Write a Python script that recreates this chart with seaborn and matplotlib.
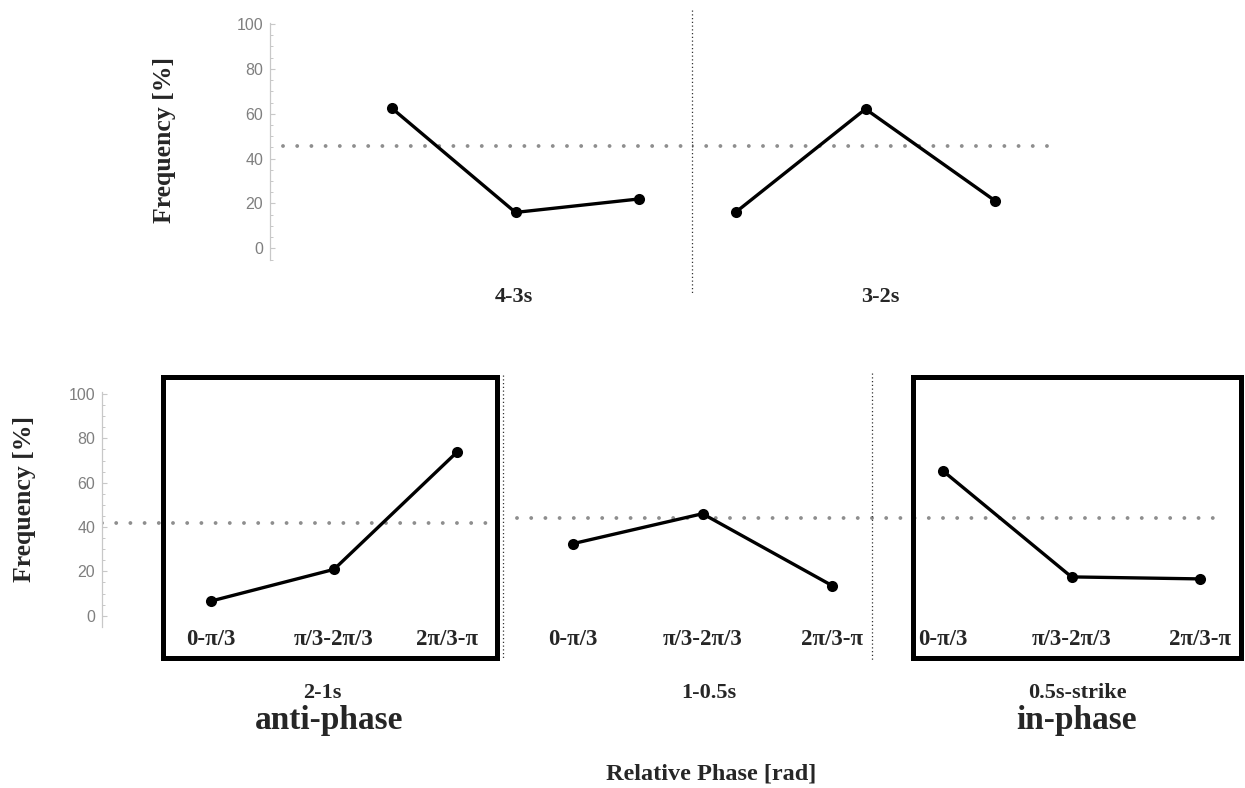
import matplotlib
matplotlib.use("Agg")
import matplotlib.pyplot as plt
from matplotlib.lines import Line2D
from matplotlib.patches import Rectangle
from matplotlib.ticker import MultipleLocator
from matplotlib.transforms import ScaledTranslation
import pandas as pd
import seaborn as sns

# ---- data -------------------------------------------------------------
phase_bins = ["0-π/3", "π/3-2π/3", "2π/3-π"]
windows = ["4-3s", "3-2s", "2-1s", "1-0.5s", "0.5s-strike"]
freq_4_3s = [62.4, 16.0, 22.0]
freq_3_2s = [16.2, 62.1, 21.2]
freq_2_1s = [6.6, 20.9, 73.8]
freq_1_05s = [32.5, 46.0, 13.6]
freq_05s_strike = [65.3, 17.5, 16.6]
ref_level_top = 45.4
ref_level_2_1s = 41.9
ref_level_late = 43.9
y_ticks = [0, 20, 40, 60, 80, 100]

frequencies = {
    "4-3s": freq_4_3s,
    "3-2s": freq_3_2s,
    "2-1s": freq_2_1s,
    "1-0.5s": freq_1_05s,
    "0.5s-strike": freq_05s_strike,
}
df = pd.DataFrame(
    [(w, p, f) for w in windows for p, f in zip(phase_bins, frequencies[w])],
    columns=["window", "phase", "freq"],
)

# ---- style ------------------------------------------------------------
sns.set_theme(style="white")
plt.rcParams["font.family"] = ["Liberation Serif", "DejaVu Serif"]

W, H = 1245, 788
fig = plt.figure(figsize=(W / 100, H / 100), dpi=100)


def fx(px):
    return px / W


def fy(py):
    return 1 - py / H


SERIF_BOLD = dict(family=["Liberation Serif", "DejaVu Serif"], weight="bold")
TICK_COLOR = "#7f7f7f"
SPINE_COLOR = "#c8c8c8"
DOT_COLOR = "#8e8e8e"


def make_panel(x0, x1, y_top, y_bot, ylim, pts, window, show_yaxis, show_xlabels):
    ax = fig.add_axes([fx(x0), fy(y_bot), (x1 - x0) / W, (y_bot - y_top) / H])
    sub = df[df["window"] == window]
    sns.lineplot(data=sub, x="phase", y="freq", ax=ax, color="black",
                 linewidth=2.4, marker="o", markersize=8,
                 markeredgewidth=0, sort=False)
    p0, p2 = pts
    s = (p2 - p0) / 2
    ax.set_xlim(-(p0 - x0) / s, 2 + (x1 - p2) / s)
    ax.set_ylim(*ylim)
    ax.set_xlabel("")
    ax.set_ylabel("")
    for side in ["top", "right", "bottom"]:
        ax.spines[side].set_visible(False)
    ax.patch.set_alpha(0)
    if show_yaxis:
        ax.spines["left"].set_color(SPINE_COLOR)
        ax.spines["left"].set_linewidth(0.9)
        ax.set_yticks(y_ticks)
        ax.yaxis.set_minor_locator(MultipleLocator(5))
        ax.tick_params(axis="y", which="major", direction="in", length=3.5,
                       width=0.8, color=SPINE_COLOR, labelcolor=TICK_COLOR,
                       labelsize=11.5, pad=5, left=True)
        ax.tick_params(axis="y", which="minor", direction="in", length=2,
                       width=0.7, color=SPINE_COLOR, left=True)
        for lab in ax.get_yticklabels():
            lab.set_family(["Liberation Sans", "DejaVu Sans"])
    else:
        ax.spines["left"].set_visible(False)
        ax.set_yticks([])
    ax.tick_params(axis="x", length=0, pad=2)
    if show_xlabels:
        ax.set_xticks(range(len(phase_bins)))
        ax.set_xticklabels(phase_bins, fontsize=16.5, **SERIF_BOLD)
    else:
        ax.set_xticks([])
    return ax


def ref_line(ax, level, f0, f1):
    ax.axhline(level, f0, f1, color=DOT_COLOR, linewidth=2.8,
               linestyle=(0, (0.001, 3.65)), dash_capstyle="round", zorder=0)


# ---- top row ----------------------------------------------------------
top_ylim = ((248.3 - 260) / 2.243, (248.3 - 22.7) / 2.243)
ax43 = make_panel(270, 692, 22.7, 260, top_ylim, (392, 639), "4-3s", True, False)
ax32 = make_panel(692, 1057, 22.7, 260, top_ylim, (736, 995), "3-2s", False, False)
ref_line(ax43, ref_level_top, (283 - 270) / (692 - 270), 1)
ref_line(ax32, ref_level_top, 0, 1)

# ---- bottom row -------------------------------------------------------
bot_ylim = ((615.7 - 626.7) / 2.217, (615.7 - 391.7) / 2.217)
ax21 = make_panel(102, 503, 391.7, 626.7, bot_ylim, (211, 457), "2-1s", True, True)
ax105 = make_panel(503, 872, 391.7, 626.7, bot_ylim, (573, 832), "1-0.5s", False, True)
axst = make_panel(872, 1241, 391.7, 626.7, bot_ylim, (943, 1200), "0.5s-strike", False, True)
ref_line(ax21, ref_level_2_1s, 0, (497 - 102) / (503 - 102))
ref_line(ax105, ref_level_late, (517 - 503) / (872 - 503), 1)
ref_line(axst, ref_level_late, 0, (1218 - 872) / (1241 - 872))

# keep the last phase label of the framed 2-1s window clear of the frame
last_lab = ax21.get_xticklabels()[-1]
last_lab.set_transform(last_lab.get_transform()
                       + ScaledTranslation(-0.10, 0, fig.dpi_scale_trans))

# frames around the anti-phase and in-phase windows
for bx0, bx1 in [(163, 497), (913, 1241)]:
    fig.add_artist(Rectangle((fx(bx0), fy(658)), (bx1 - bx0) / W, (658 - 377) / H,
                             transform=fig.transFigure, fill=False,
                             edgecolor="black", linewidth=3.6, zorder=5))

# thin dotted separators between time windows
for sx, sy0, sy1 in [(692, 10, 295), (503, 375, 660), (872, 373, 660)]:
    fig.add_artist(Line2D([fx(sx), fx(sx)], [fy(sy0), fy(sy1)],
                          transform=fig.transFigure, color="#333333",
                          linewidth=0.9, linestyle=(0, (1, 2))))

# ---- text -------------------------------------------------------------
for label, cx, cy in [("4-3s", 514, 297), ("3-2s", 880, 297),
                      ("2-1s", 322, 693), ("1-0.5s", 709, 693),
                      ("0.5s-strike", 1077, 693)]:
    fig.text(fx(cx), fy(cy), label, ha="center", va="center",
             fontsize=16, **SERIF_BOLD)

fig.text(fx(329), fy(720), "anti-phase", ha="center", va="center",
         fontsize=24, **SERIF_BOLD)
fig.text(fx(1077), fy(720), "in-phase", ha="center", va="center",
         fontsize=24, **SERIF_BOLD)
fig.text(fx(711), fy(774), "Relative Phase [rad]", ha="center", va="center",
         fontsize=17.5, **SERIF_BOLD)

fig.text(fx(165), fy(140), "Frequency [%]", ha="center", va="center",
         rotation=90, fontsize=18.5, **SERIF_BOLD)
fig.text(fx(25), fy(499), "Frequency [%]", ha="center", va="center",
         rotation=90, fontsize=18.5, **SERIF_BOLD)

fig.savefig("out.png", dpi=100, facecolor="white")
